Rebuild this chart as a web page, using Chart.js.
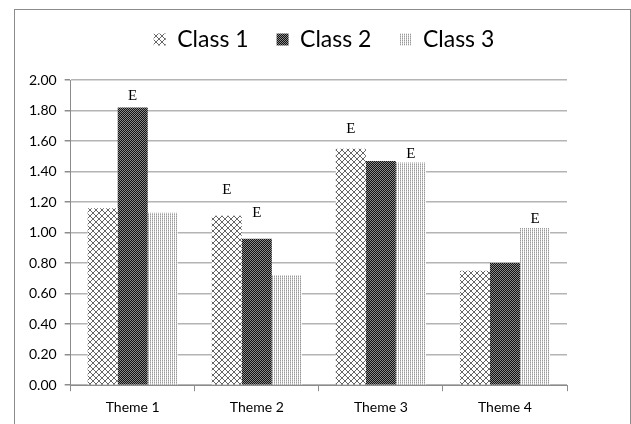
<!DOCTYPE html>
<html>
<head>
<meta charset="utf-8">
<script src="https://cdn.jsdelivr.net/npm/chart.js@4.4.0/dist/chart.umd.min.js"></script>
<style>
  html, body { margin: 0; padding: 0; background: #fff; }
  #wrap { width: 631px; height: 424px; }
</style>
</head>
<body>
<div id="wrap"><canvas id="c" width="631" height="424"></canvas></div>
<script>
(function () {
    'use strict';

    // data
    const themes = ['Theme 1', 'Theme 2', 'Theme 3', 'Theme 4'];
    const seriesNames = ['Class 1', 'Class 2', 'Class 3'];
    const class1 = [1.16, 1.11, 1.55, 0.75];
    const class2 = [1.82, 0.96, 1.47, 0.80];
    const class3 = [1.13, 0.72, 1.46, 1.03];
    // level (in axis units) of the "E" marker's baseline, null = no marker
    const class1E = [null, 1.25, 1.65, null];
    const class2E = [1.87, 1.10, null, null];
    const class3E = [null, null, 1.49, 1.06];
    const yTicks = [0, 0.2, 0.4, 0.6, 0.8, 1.0, 1.2, 1.4, 1.6, 1.8, 2.0];

    function makePattern(size, draw) {
        const c = document.createElement('canvas');
        c.width = size; c.height = size;
        const g = c.getContext('2d');
        draw(g, size);
        return document.getElementById('c').getContext('2d').createPattern(c, 'repeat');
    }

    // crosshatch diamonds
    const pat1 = makePattern(6, function (g, s) {
        g.fillStyle = '#fff';
        g.fillRect(0, 0, s, s);
        g.fillStyle = '#666';
        for (let i = 0; i < s; i++) {
            g.fillRect(i, i, 1, 1);
            g.fillRect(s - 1 - i, i, 1, 1);
        }
    });
    // dark checker
    const pat2 = makePattern(2, function (g) {
        g.fillStyle = '#111';
        g.fillRect(0, 0, 2, 2);
        g.fillStyle = '#8a8a8a';
        g.fillRect(0, 0, 1, 1);
        g.fillRect(1, 1, 1, 1);
    });
    // fine vertical dots
    const pat3 = makePattern(2, function (g) {
        g.fillStyle = '#fff';
        g.fillRect(0, 0, 2, 2);
        g.fillStyle = '#9a9a9a';
        g.fillRect(0, 0, 1, 1);
        g.fillStyle = '#c4c4c4';
        g.fillRect(0, 1, 1, 1);
    });

    const frame = {
        id: 'frame',
        afterDraw: function (chart) {
            const ctx = chart.ctx;
            ctx.save();
            ctx.strokeStyle = '#8c8c8c';
            ctx.lineWidth = 1;
            ctx.strokeRect(14.5, 9.5, 616, 430);
            ctx.restore();
        }
    };

    // legend sits centred across the whole frame, near the top
    const legendPlace = {
        id: 'legendPlace',
        afterLayout: function (chart) {
            const lg = chart.legend;
            if (!lg) return;
            const h = lg.height;
            lg.top = 0;
            lg.bottom = lg.top + h;
            lg.left = 16;
            lg.right = 632;
            lg.width = 616;
        }
    };

    const eMarks = {
        id: 'eMarks',
        afterDatasetsDraw: function (chart) {
            const ctx = chart.ctx;
            const y = chart.scales.y;
            ctx.save();
            ctx.font = '15px "Liberation Serif", "DejaVu Serif", serif';
            ctx.fillStyle = '#000';
            ctx.textAlign = 'center';
            ctx.textBaseline = 'alphabetic';
            chart.data.datasets.forEach(function (ds, di) {
                const meta = chart.getDatasetMeta(di);
                meta.data.forEach(function (bar, i) {
                    const lvl = ds.eLevels[i];
                    if (lvl != null) ctx.fillText('E', bar.x, y.getPixelForValue(lvl));
                });
            });
            ctx.restore();
        }
    };

    const uiFont = 'Lato, "Open Sans", sans-serif';

    new Chart(document.getElementById('c'), {
        type: 'bar',
        data: {
            labels: themes,
            datasets: [
                { label: seriesNames[0], data: class1, eLevels: class1E, backgroundColor: pat1 },
                { label: seriesNames[1], data: class2, eLevels: class2E, backgroundColor: pat2 },
                { label: seriesNames[2], data: class3, eLevels: class3E, backgroundColor: pat3 }
            ]
        },
        options: {
            responsive: false,
            animation: false,
            devicePixelRatio: 1,
            datasets: { bar: { categoryPercentage: 0.726, barPercentage: 1.0, borderWidth: 0 } },
            layout: { padding: { left: 21, right: 64, top: 19, bottom: 0 } },
            plugins: {
                tooltip: { enabled: false },
                legend: {
                    position: 'top',
                    labels: {
                        boxWidth: 12,
                        boxHeight: 12,
                        padding: 28,
                        color: '#000',
                        font: { family: uiFont, size: 23 }
                    }
                }
            },
            scales: {
                x: {
                    offset: true,
                    grid: { offset: true, drawOnChartArea: false, tickLength: 6, color: '#8c8c8c' },
                    border: { color: '#8c8c8c' },
                    ticks: { color: '#000', font: { family: uiFont, size: 14 }, padding: 8 }
                },
                y: {
                    min: 0,
                    max: 2,
                    afterBuildTicks: function (axis) {
                        axis.ticks = yTicks.map(function (v) { return { value: v }; });
                    },
                    grid: { color: '#b4b4b4', lineWidth: 1.5, tickLength: 6, tickColor: '#8c8c8c' },
                    border: { color: '#8c8c8c' },
                    ticks: {
                        color: '#000',
                        font: { family: uiFont, size: 14 },
                        padding: 8,
                        callback: function (v) { return Number(v).toFixed(2); }
                    }
                }
            }
        },
        plugins: [frame, legendPlace, eMarks]
    });
})();
</script>
</body>
</html>
